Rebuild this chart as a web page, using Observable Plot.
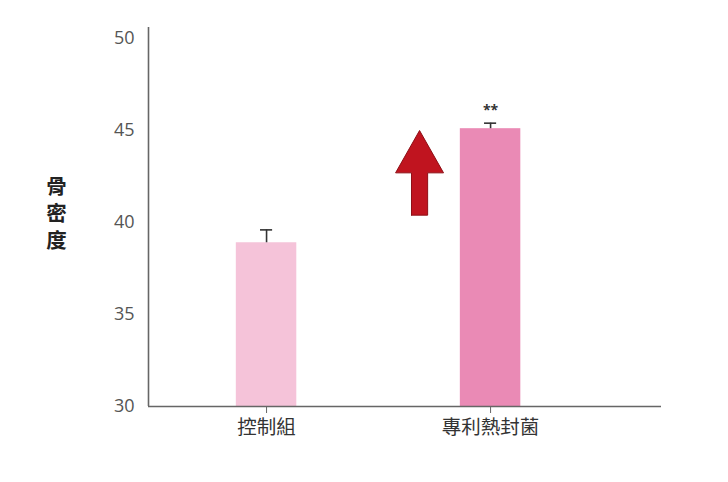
<!DOCTYPE html>
<html>
<head>
<meta charset="utf-8">
<script src="https://cdn.jsdelivr.net/npm/d3@7"></script>
<script src="https://cdn.jsdelivr.net/npm/@observablehq/plot@0.6"></script>
<style>
  html, body { margin: 0; padding: 0; background: #fff; }
  #chart { width: 728px; height: 482px; }
</style>
</head>
<body>
<div id="chart"></div>
<script>
const categories = ["控制組", "專利熱封菌"];
const values = [38.9, 45.1];
const errorTops = [39.6, 45.4];
const barColors = ["#f5c3d9", "#ea8ab5"];
const significance = ["", "**"];
const yTicks = [30, 35, 40, 45, 50];
const yLabel = "骨密度";
// arrow annotation outline (x in category-position units, y in data units)
const arrowX = [0.647, 0.647, 0.576, 0.683, 0.790, 0.719, 0.719, 0.647];
const arrowY = [40.4, 42.7, 42.7, 45.0, 42.7, 42.7, 40.4, 40.4];

const bars = categories.map((c, i) => ({pos: i, cat: c, value: values[i], err: errorTops[i], color: barColors[i], sig: significance[i]}));
const arrow = arrowX.map((x, i) => ({x, y: arrowY[i]}));
const halfBar = 0.135;
const halfCap = 0.027;

const chart = Plot.plot({
  width: 728,
  height: 482,
  marginLeft: 148,
  marginRight: 67,
  marginTop: 27,
  marginBottom: 76,
  style: {fontFamily: "'Open Sans', 'Noto Sans CJK TC', sans-serif", background: "#fff"},
  x: {domain: [-0.527, 1.763], axis: null},
  y: {domain: [30, 50.6], axis: null},
  marks: [
    Plot.rectY(bars, {x1: d => d.pos - halfBar, x2: d => d.pos + halfBar, y1: 30, y2: "value", fill: "color"}),
    Plot.ruleX(bars, {x: "pos", y1: "value", y2: "err", stroke: "#333", strokeWidth: 1.6}),
    Plot.ruleY(bars, {y: "err", x1: d => d.pos - halfCap, x2: d => d.pos + halfCap, stroke: "#333", strokeWidth: 1.6}),
    Plot.text(bars, {x: "pos", y: "err", text: "sig", dy: -13, fontSize: 14, fill: "#333", fontWeight: "bold"}),
    Plot.line(arrow, {x: "x", y: "y", fill: "#c0141f", stroke: "#8e0f16", strokeWidth: 1}),
    Plot.axisY({ticks: yTicks, tickSize: 0, tickPadding: 14, fontSize: 18, color: "#555", label: null}),
    Plot.axisX({ticks: [0, 1], tickFormat: d => categories[d], tickSize: 7, tickPadding: 7, fontSize: 19.5, color: "#333", stroke: "#666", label: null, anchor: "bottom"}),
    Plot.ruleY([30], {stroke: "#666", strokeWidth: 1.6}),
    Plot.ruleX([-0.527], {y1: 30, y2: 50.6, stroke: "#666", strokeWidth: 1.6}),
    Plot.text([yLabel], {text: d => d.split("").join("\n"), frameAnchor: "left", dx: -92, dy: -5, fontSize: 20.5, fontWeight: "bold", lineHeight: 1.32, fill: "#222", textAnchor: "middle"})
  ]
});
document.getElementById("chart").appendChild(chart);
</script>
</body>
</html>
